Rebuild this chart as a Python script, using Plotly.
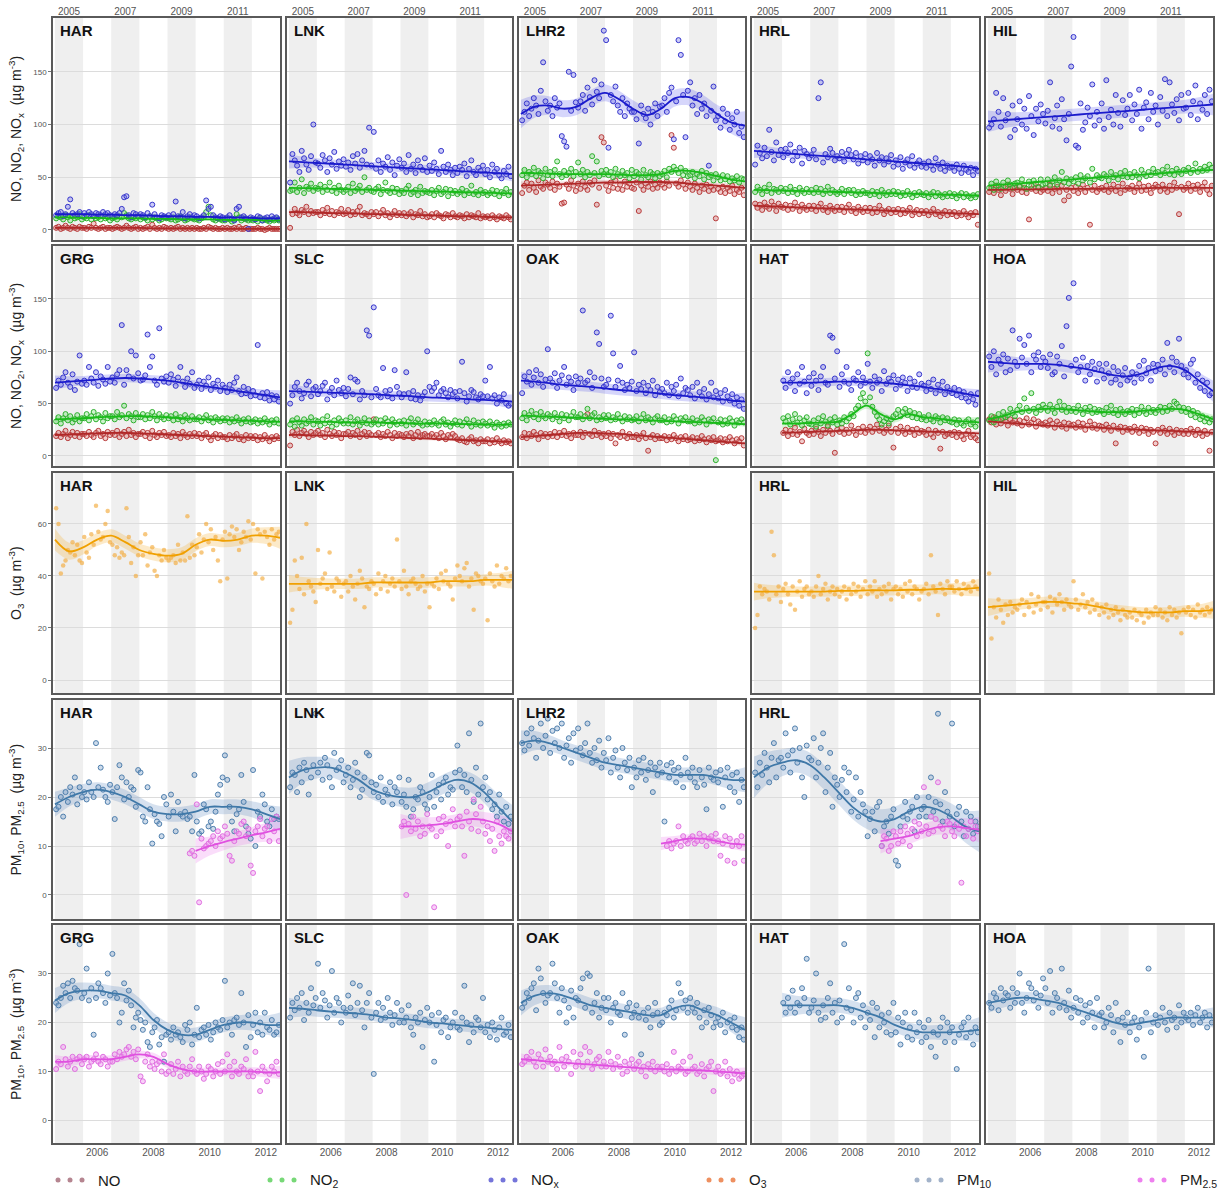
import plotly.graph_objects as go

W, H = 1221, 1194
N_MONTHS = 96
MONTH_X = [2005 + (i + 0.5) / 12 for i in range(N_MONTHS)]
KNOT_X = [2005 + 0.5 * k for k in range(17)]
X_RANGE = [2004.93, 2013.0]

TOP_TICKS = ["2005", "2007", "2009", "2011"]
BOTTOM_TICKS = ["2006", "2008", "2010", "2012"]
SHADED_YEARS = [2005, 2007, 2009, 2011]

# ---------------- monthly means, NOx family (ug m-3) ----------------
HAR_NOX = [14,16,17,13,15,22,29,16,14,15,17,13,
           16,14,17,15,13,16,15,14,17,15,16,14,
           13,15,14,16,20,31,32,14,12,16,15,13,
           15,14,12,16,13,24,15,12,11,14,13,12,
           14,12,15,27,13,12,17,11,13,15,12,14,
           13,11,12,14,28,20,22,14,12,11,13,12,
           10,12,14,11,9,20,22,12,13,11,1,12,
           11,10,13,12,9,11,12,10,13,11,12,10]
HAR_NO2 = [11,13,12,10,14,12,9,13,11,12,15,10,
           12,11,14,10,13,11,12,10,13,11,12,9,
           11,12,10,13,12,16,14,11,10,12,11,13,
           10,12,11,9,13,10,12,11,9,10,12,11,
           11,10,12,9,10,13,11,9,10,12,11,10,
           10,9,11,12,17,22,14,10,9,11,10,9,
           9,11,10,8,10,15,12,9,11,10,9,10,
           9,10,8,11,9,10,9,8,10,9,11,9]
HAR_NO = [2,3,1,2,4,2,1,3,2,1,3,2,
          2,1,3,2,6,2,1,2,3,1,2,2,
          1,2,3,2,1,2,4,2,1,2,3,1,
          2,1,2,3,1,5,2,1,2,1,3,2,
          1,2,1,2,3,1,2,1,2,1,2,1,
          2,1,1,2,1,3,2,1,2,1,1,2,
          1,2,1,1,2,1,3,1,1,2,1,1,
          1,1,2,1,1,0,1,2,1,1,1,1]

LNK_NOX = [45,72,66,61,55,75,68,62,57,70,100,64,
           63,59,71,66,55,68,62,74,58,65,61,67,
           60,64,57,70,63,72,59,66,75,62,97,61,
           93,58,66,55,63,60,69,57,64,52,61,67,
           59,63,55,71,58,62,54,66,60,57,68,55,
           61,56,64,58,53,75,60,55,62,57,52,59,
           54,60,57,63,51,58,66,55,52,59,56,61,
           53,57,50,62,55,58,52,49,56,53,60,51]
LNK_NO2 = [37,38,45,36,40,48,35,41,39,44,37,40,
           39,43,36,41,38,45,37,40,35,42,38,36,
           38,41,35,44,37,39,42,36,50,38,40,37,
           36,39,41,34,38,45,37,35,40,36,39,34,
           37,35,39,42,34,36,38,33,41,35,37,36,
           35,38,33,37,40,34,36,39,32,38,35,37,
           34,36,39,33,37,35,42,34,36,33,38,35,
           36,33,35,38,34,37,32,36,35,39,33,36]
LNK_NO = [2,15,20,16,14,19,17,22,15,18,16,17,
          17,14,19,16,21,15,18,14,17,16,20,15,
          16,19,14,17,15,18,22,14,16,15,13,17,
          15,17,13,16,19,14,16,12,15,18,14,16,
          14,16,13,15,17,12,15,14,18,13,15,12,
          13,15,12,16,14,13,11,15,14,12,16,13,
          12,14,13,11,15,12,14,13,12,16,11,13,
          12,13,11,14,12,10,13,12,11,14,12,10]

LHR2_NOX = [104,112,120,108,115,125,118,110,132,159,122,113,
            118,108,125,116,120,89,84,79,150,113,147,121,
            116,122,128,113,135,126,119,142,131,125,138,189,
            180,78,128,122,136,118,112,125,108,120,115,112,
            112,105,82,118,110,106,115,100,112,120,108,117,
            118,125,112,130,135,86,122,180,166,128,88,132,
            140,118,125,110,128,115,120,108,61,113,136,104,
            108,97,115,103,110,95,106,100,112,92,98,88]
LHR2_NO2 = [52,57,50,55,53,59,51,56,54,49,58,52,
            55,51,57,65,53,50,56,52,54,58,51,55,
            64,53,57,50,55,52,70,54,65,51,56,53,
            57,52,55,50,58,53,51,56,52,54,49,57,
            51,55,53,48,57,52,50,55,53,49,54,51,
            53,56,50,58,55,60,57,54,59,52,56,51,
            52,55,49,53,51,56,48,54,50,52,47,53,
            50,47,52,48,51,46,49,47,51,45,49,48]
LHR2_NO = [35,42,45,38,44,40,36,47,41,39,45,43,
           40,46,38,44,41,25,26,43,39,47,42,37,
           44,39,46,41,38,45,43,47,24,40,88,83,
           42,37,45,40,47,39,43,38,46,41,44,40,
           39,45,18,42,38,44,41,46,39,43,40,45,
           43,40,46,42,90,78,44,41,47,43,39,45,
           41,38,44,40,36,42,39,43,37,41,38,11,
           39,36,41,35,40,37,42,34,38,36,40,33]

HRL_NOX = [62,80,73,68,78,70,95,74,66,83,71,76,
           69,77,73,81,66,74,70,78,63,75,72,68,
           71,76,67,125,140,64,72,69,77,73,66,70,
           68,74,65,72,76,71,67,73,63,70,66,72,
           64,70,67,61,73,66,69,62,68,65,71,60,
           66,62,69,58,64,67,61,70,59,63,66,60,
           63,59,65,61,57,68,62,58,64,56,61,59,
           60,56,62,58,54,61,57,55,59,52,58,56]
HRL_NO2 = [36,41,38,34,40,37,43,35,39,38,36,40,
           37,39,35,41,36,38,34,40,37,35,39,36,
           38,35,40,36,39,34,37,41,35,38,36,34,
           36,39,34,37,38,35,38,33,36,34,37,35,
           35,33,37,34,36,32,38,35,33,36,34,37,
           34,36,32,35,33,37,34,31,35,33,36,34,
           33,35,31,34,36,32,35,33,31,34,32,35,
           32,34,30,33,35,31,34,32,30,33,31,34]
HRL_NO = [25,21,24,19,26,22,20,27,23,18,25,22,
          21,24,19,23,20,26,22,18,24,21,19,23,
          20,23,18,22,25,19,21,17,23,20,18,22,
          19,22,17,21,24,18,20,16,22,19,17,21,
          18,21,16,20,17,23,19,15,18,20,16,19,
          17,20,15,19,16,18,21,14,17,19,15,18,
          16,18,14,17,20,15,17,13,16,18,14,17,
          15,17,13,16,14,18,15,12,16,14,17,5]

HIL_NOX = [97,100,105,130,112,98,125,104,110,88,118,95,
           105,122,100,115,96,127,108,90,115,103,119,110,
           101,113,140,98,106,118,96,124,105,85,110,155,
           183,80,78,120,95,102,116,108,138,99,112,104,
           120,96,142,107,114,100,128,111,98,123,109,115,
           128,104,119,110,133,96,116,121,105,130,112,118,
           100,126,113,143,108,140,119,111,124,104,128,115,
           116,130,109,122,137,105,120,114,128,110,133,122]
HIL_NO2 = [40,44,38,46,42,39,45,41,47,43,40,44,
           45,41,48,43,39,46,42,47,44,40,48,43,
           44,48,42,46,50,43,47,55,45,49,44,48,
           46,50,44,52,47,49,51,45,58,48,52,50,
           49,53,51,47,55,50,52,48,54,51,56,50,
           53,50,55,52,49,57,53,51,55,52,58,54,
           55,52,57,54,60,53,56,52,58,55,53,57,
           56,59,54,57,63,55,58,56,60,57,62,59]
HIL_NO = [36,40,35,42,38,33,41,37,43,39,34,40,
          38,42,36,40,35,10,39,43,37,41,36,38,
          40,37,43,35,39,41,36,42,28,38,32,40,
          37,41,35,39,43,36,40,5,38,42,36,39,
          40,38,42,36,39,43,37,41,35,44,38,40,
          39,42,36,40,44,37,41,38,42,35,40,43,
          41,37,43,39,36,42,38,45,40,15,41,38,
          40,44,37,42,39,43,36,41,45,38,34,42]

GRG_NOX = [65,72,68,75,80,70,66,78,63,71,96,69,
           72,68,85,74,70,80,67,76,73,69,85,71,
           75,70,78,82,125,68,82,76,100,74,96,79,
           72,73,77,116,85,95,72,68,122,74,71,76,
           70,78,73,67,75,85,71,66,74,69,80,65,
           68,72,64,71,67,75,63,69,66,72,62,68,
           65,61,68,63,70,75,62,59,66,60,64,57,
           62,58,106,56,60,55,61,53,58,54,57,52]
GRG_NO2 = [33,37,31,36,40,34,38,32,35,39,33,36,
           36,40,34,38,42,35,39,37,33,41,36,38,
           38,35,42,37,39,48,36,40,38,34,41,37,
           37,40,35,39,36,42,38,34,40,37,35,39,
           36,38,34,40,35,37,33,39,36,34,38,35,
           35,37,33,36,39,34,36,32,37,35,33,36,
           34,36,32,35,33,37,34,31,35,33,36,32,
           33,35,31,34,32,36,33,30,34,32,35,31]
GRG_NO = [19,22,18,21,24,17,20,23,19,22,18,21,
          21,19,23,20,18,22,24,19,21,17,23,20,
          22,20,24,18,21,23,19,25,20,22,18,21,
          21,23,19,22,17,24,20,18,22,20,23,19,
          20,18,22,19,21,17,23,20,18,21,19,22,
          19,21,17,20,22,18,15,19,21,17,20,18,
          18,16,20,17,19,21,16,18,15,20,17,19,
          17,19,15,18,16,20,17,14,18,16,19,17]

SLC_NOX = [50,58,66,70,62,55,60,68,71,57,64,66,
           59,62,67,70,54,61,65,58,72,63,60,65,
           57,64,75,59,73,71,54,62,58,120,115,56,
           142,64,58,56,84,62,57,63,55,82,66,60,
           56,59,80,60,55,62,54,58,53,57,61,100,
           66,62,65,70,58,62,64,60,56,63,59,61,
           55,62,90,60,52,57,63,61,56,54,59,57,
           72,57,85,55,58,50,56,53,59,50,48,50]
SLC_NO2 = [30,34,28,36,32,29,35,31,33,37,30,34,
           33,29,35,31,38,32,28,34,30,36,33,31,
           34,31,37,30,33,35,29,32,36,31,34,30,
           32,35,30,34,31,36,33,29,35,32,30,33,
           31,34,29,33,36,30,32,35,31,29,33,30,
           32,30,34,31,29,33,35,30,32,28,31,34,
           30,33,29,32,35,31,28,34,30,32,29,33,
           31,29,33,30,27,32,30,28,31,29,32,30]
SLC_NO = [10,23,20,25,19,22,24,21,18,23,20,22,
          24,20,22,18,25,21,19,23,20,22,17,21,
          21,23,19,22,20,24,18,21,23,19,22,20,
          35,20,22,18,21,19,23,20,17,22,19,21,
          20,18,21,19,22,17,20,23,18,20,21,19,
          19,21,18,20,17,22,19,16,20,18,21,19,
          16,15,17,14,13,16,18,14,15,12,16,14,
          14,16,12,15,13,17,14,12,15,13,14,12]

OAK_NOX = [60,76,71,80,68,75,82,70,78,66,73,102,
           74,70,79,65,72,77,85,68,75,71,63,76,
           70,74,139,70,72,80,65,75,118,107,74,66,
           68,73,134,98,66,72,86,70,63,68,65,71,
           99,62,68,64,70,60,67,63,72,58,66,61,
           64,60,70,58,66,62,68,57,74,60,65,63,
           58,66,55,70,61,57,64,54,59,70,56,62,
           55,60,52,63,57,53,59,50,56,48,54,45]
OAK_NO2 = [36,41,34,39,43,37,40,35,42,38,36,40,
           38,35,41,37,33,40,36,39,34,38,42,37,
           37,40,35,38,45,36,39,41,34,37,35,39,
           36,39,34,37,35,40,36,33,38,35,37,34,
           35,38,33,36,40,34,37,35,32,36,38,34,
           34,37,32,35,33,38,35,31,36,34,37,33,
           33,36,31,34,32,37,34,30,35,33,36,-4,
           32,35,30,34,31,36,33,29,34,32,35,32]
OAK_NO = [18,22,17,21,19,23,20,16,22,19,21,18,
          21,19,23,18,22,20,24,19,21,17,22,20,
          20,23,18,22,40,21,19,24,20,22,18,21,
          19,22,17,21,12,20,18,23,19,17,21,18,
          18,20,16,19,22,17,5,18,20,16,19,17,
          17,19,15,18,16,20,17,14,18,16,19,15,
          16,18,14,17,15,19,16,13,17,15,18,14,
          15,17,13,16,14,18,15,12,16,14,17,10]

HAT_NOX = [None] * 12 + [
           72,65,80,70,74,62,78,69,85,71,60,75,
           67,79,72,63,76,85,70,68,115,113,74,100,
           66,78,71,85,69,63,74,72,80,67,75,70,
           88,71,65,76,70,73,62,81,69,74,71,77,
           64,73,68,75,70,62,74,66,71,65,78,69,
           67,62,70,64,73,60,68,63,71,59,66,62,
           60,65,58,63,56,61,55,52,59,54,49,60]
HAT_NO2 = [None] * 12 + [
           36,33,38,30,35,40,32,36,29,34,37,31,
           30,34,28,36,31,38,33,29,35,32,37,30,
           34,31,37,33,36,40,38,45,48,55,60,52,
           98,56,47,42,38,35,30,33,36,31,35,38,
           40,44,38,42,45,39,43,37,41,36,40,35,
           37,34,39,35,33,38,36,32,37,34,36,33,
           32,35,30,34,31,29,33,35,30,32,28,34]
HAT_NO = [None] * 12 + [
          22,25,19,24,21,27,20,23,14,26,22,20,
          24,21,26,23,19,25,22,28,24,21,3,25,
          23,27,21,25,22,29,24,20,26,23,28,22,
          25,28,23,26,30,24,27,22,25,29,23,8,
          26,22,28,24,21,27,23,25,20,26,22,24,
          23,20,25,21,18,24,22,7,23,19,21,22,
          20,23,18,22,19,16,21,24,18,20,17,15]

HOA_NOX = [95,85,100,78,92,88,97,80,93,82,120,90,
           86,112,94,106,88,115,80,96,92,99,85,94,
           90,84,97,78,80,95,88,105,76,124,151,86,
           165,92,80,85,94,72,86,78,90,83,71,88,
           82,74,88,79,70,85,73,81,68,77,84,72,
           75,80,70,78,86,74,91,79,84,72,88,81,
           87,83,92,78,108,85,94,80,90,112,86,78,
           82,75,88,92,70,78,65,72,62,70,58,60]
HOA_NO2 = [34,38,32,36,40,35,42,37,39,45,41,38,
           44,48,42,55,46,43,60,45,41,47,44,49,
           46,43,49,45,41,47,52,44,48,42,46,43,
           45,42,48,44,40,46,43,47,41,45,42,44,
           43,40,46,42,48,41,44,39,45,42,40,43,
           42,45,39,44,41,47,43,40,46,42,44,41,
           44,47,42,46,43,48,45,52,50,47,43,46,
           42,45,39,43,37,41,35,38,33,36,32,35]
HOA_NO = [35,32,37,30,34,31,36,33,29,35,32,34,
          31,34,29,33,36,30,32,35,28,33,31,30,
          32,29,34,31,27,33,30,28,32,26,31,29,
          30,27,32,28,31,25,29,33,27,30,26,29,
          28,25,30,27,24,29,12,26,28,23,27,25,
          26,23,28,25,22,27,24,26,21,25,23,12,
          25,22,27,24,21,26,23,20,25,22,24,21,
          24,21,26,23,20,25,22,19,24,21,5,23]

# ---------------- monthly means, O3 ----------------
HAR_O3 = [66,60,41,44,46,50,49,53,48,52,46,45,
          55,49,47,56,52,67,57,54,55,60,65,53,
          52,48,51,47,49,48,66,55,45,51,40,48,
          53,48,56,44,49,51,42,40,48,46,50,47,
          46,47,48,45,52,46,49,46,63,47,52,48,
          51,56,49,54,60,53,58,50,55,46,38,54,
          57,39,56,59,55,58,50,53,57,55,61,54,
          60,41,58,56,39,57,55,52,58,54,56,57]
LNK_O3 = [22,27,46,40,35,47,33,60,38,36,34,30,
          50,37,39,41,35,49,36,34,39,38,32,37,
          38,34,40,36,31,37,42,39,28,36,35,38,
          37,33,41,35,38,40,34,37,39,36,54,38,
          35,42,36,33,38,39,37,35,36,40,34,37,
          28,37,36,39,35,41,38,42,37,36,31,39,
          44,40,38,43,45,36,39,27,41,40,38,37,
          39,23,41,38,36,44,37,40,39,43,38,40]
HRL_O3 = [20,25,36,33,35,34,31,57,48,33,36,30,
          35,37,33,29,36,27,34,38,32,35,36,33,
          34,32,36,40,33,35,37,31,34,36,33,35,
          32,34,36,31,35,33,37,34,36,32,35,38,
          33,36,34,38,32,35,33,36,34,37,31,35,
          36,33,35,32,37,34,38,33,36,35,31,34,
          35,37,33,48,36,34,25,37,35,33,38,36,
          36,34,38,35,33,37,35,36,34,38,36,35]
HIL_O3 = [41,16,28,24,31,27,22,29,25,30,26,28,
          27,29,31,25,30,28,33,26,29,32,27,30,
          30,28,32,26,31,29,33,30,27,31,29,28,
          38,31,27,29,33,28,30,26,31,27,29,25,
          28,26,29,24,27,25,28,26,23,27,25,24,
          26,24,27,23,26,25,22,27,24,26,25,28,
          25,27,24,26,23,28,25,27,24,26,18,27,
          26,28,25,27,24,29,26,27,25,28,26,27]

# ---------------- monthly means, PM10 and PM2.5 ----------------
HAR_PM10 = [17.5,18,20,16,21,19,22,20.5,24,18.5,22,20,
            21,19.5,23,21,20,31,22,26,21.5,20,19,22.5,
            21,15.5,22,26.5,24,19.5,23,20,22,21.5,18,25.5,
            25,16,15,22,17.5,10.5,16.5,15,14.5,12,20,18.5,
            16,20.5,17,13,19,16.5,16,17,15.5,16,13,24.5,
            15,12.5,13,18.5,17.5,14,15,13.5,17,20.5,22.5,24,
            28.5,23.5,18,15,13,16.5,17.5,24.5,19,14,12.5,11.5,
            25.5,10,17,16,20.5,18.5,15,14,17.5,15.5,16,15.5]
HAR_PM25 = [None] * 57 + [8.5,9,8,
            18.5,-1.5,11.5,9.5,10,10.5,11,12,10,13,11.5,12,
            14,12.5,8,7,11,13,12.5,14.5,15,12,13.5,6,
            4.5,13,14,15.5,12,13.5,14,11,15.5,13,16,11]
LNK_PM10 = [22,25,24.5,21,26,23,27,25.5,20.5,24,26.5,37,
            25,27,23.5,28,26.5,24,22,29,25.5,26,27.5,23,
            24.5,26,22,23.5,27,25,20,21.5,24,29,28.5,23,
            21,22.5,20,24,19,21.5,20.5,23,18.5,22,21,24,
            19,20.5,18,23.5,16,17.5,20,19.5,22,21,18.5,17.5,
            20,24.5,18,21,22.5,19.5,23,24,20.5,22,21.5,25,
            30.5,25.5,22,24.5,21,33,23.5,19,26,20.5,35,22,
            24,19.5,21,17.5,18.5,16,20.5,17,15,18,14.5,16]
LNK_PM25 = [None] * 48 + [
            14,15,0,14.5,13,16,13.5,15,12,14,12.5,16.5,
            14,13.5,-2.5,12,15.5,13,16,14.5,10,15,17.5,14,
            15.5,16,14,8,17,15,13.5,19.5,16.5,13,18,15,
            12.5,14,11,13.5,9,15,12,10.5,13,12,11.5,13]
LHR2_PM10 = [31,29.5,33,30.5,34,32,28,31.5,35,30,32.5,36,
             29,33.5,31,34,30,35,28,30.5,32,27,33,29.5,
             34,30,28.5,31,35,29,27,30,27.5,31.5,26,29,
             27.5,32,25,28,29.5,26,24,30,27,25.5,28,22,
             26,24,27.5,25,28,23.5,25.5,27,21,26,24.5,27,
             25,15,26.5,24,27,25.5,23,26,24.5,22,28,25,
             24,26,23,22,25.5,24,22.5,17.5,26,24,23.5,25,
             23,25.5,18,24,26,22,24.5,21,25,19,23.5,22]
LHR2_PM25 = [None] * 62 + [10,11,9.5,10.5,11,14,10,12,11,10.5,
             11.5,12,10.5,11,12.5,11,12,10,11.5,12,11,12.5,
             11,8,10.5,12,7,11.5,10,6.5,11,10,12,7]
HRL_PM10 = [25,22,27,24.5,29,26,23,28,31,24,27.5,28,
            26,33,28.5,25,29.5,34,27,30,24,20,30.5,28,
            27.5,32,24,27,30,33,21,26,29,18,24,22.5,
            20,23.5,26,21,25,17,19.5,24,16,21,18.5,17,
            12,15.5,17,13,18,19,10,14,15,12.5,16,17.5,
            7,6,14,16,19,15.5,17,18,13,20,16,17.5,
            18,16,20,24,17,19,37,18.5,15,21,17,16,
            35,14,16.5,18,15,12,17,13.5,16,12.5,15,14]
HRL_PM25 = [None] * 54 + [10,12,11.5,9,10,13,
            12,10.5,13,11,14,12.5,10,13.5,15,12,14.5,13,
            22,14,12.5,16,13,15.5,23,14,13.5,12,15,14.5,
            13,12,14.5,13.5,2.5,14,12,13.5,15,11.5,14,13]

GRG_PM10 = [24,23.5,25,27.5,26,28,25,28.5,27,26.5,36,25,
            26,31,24.5,27,17.5,25,28,27,26,24,30,25.5,
            34,26,25,20,22,28,24.5,26.5,23.5,19,21,22,
            20.5,18.5,20,16,15,18,19,20.5,15.5,17,12,17.5,
            18,16.5,19,17.5,18,17,16,19.5,18.5,20,15.5,17.5,
            23,17,18.5,19,17.5,19.5,16.5,18,20,19,18.5,20.5,
            28.5,19,20,17.5,20.5,21,19.5,26,20,15,21.5,17,
            19.5,22,18,20,17.5,22,19,18.5,20.5,17.5,18,19.5]
GRG_PM25 = [10.5,12,11.5,15,12.5,11,12,13,10.5,12.5,13,11.5,
            12.5,13,11,12,12.5,13.5,12,11.5,13,12.5,11,12,
            12,13.5,12.5,14,13,13.5,14.5,15,13,14,12.5,14.5,
            9,8,12,13.5,11,12,10.5,11.5,12,10,13.5,9.5,
            10,11.5,9.5,10.5,12,9,11,10,9.5,11,12.5,10,
            9.5,11,10,8.5,9.5,11,10.5,9,10,11.5,9.5,12,
            10,13.5,11,9,12,10,9.5,11,10.5,12.5,9,10,
            9,14,10,6,11,10,8,9.5,11,10,12,9.5]
SLC_PM10 = [21,24,22.5,25,23,26,20.5,24,22,27,23.5,25,
            32,23,26,24.5,21,23.5,30.5,22,25,24,20,23,
            22,25.5,23,28,21.5,24,27.5,22.5,19,24,26,21,
            9.5,22,24,20.5,23,21,25,22,19.5,21.5,24,20,
            22.5,20,21,23.5,19,17.5,21,20,22,15,20.5,23,
            20,21.5,12,19.5,22,18,20.5,21,17,19,20,22,
            19,18.5,21,27.5,20,16,19.5,18,21,20.5,19,25,
            18,19.5,17,20,18.5,16.5,19,21,17.5,18,19.5,17]
OAK_PM10 = [23,24,26,25,27,28,22.5,31,29,26,24,25.5,
            26,32,28,25,22,27,24.5,20,23,26.5,21,25,
            24.5,27,29,23,30,29.5,22,24,26,21,23,25,
            22.5,25,20,23,24,22,21.5,26,17.5,23,24,21,
            22,23.5,21,13.5,22,20.5,23,19,21.5,24,22,19.5,
            20,22,21.5,23,24.5,21,22.5,28,26,23,24.5,22,
            25,23,22,24,21,19,22.5,20,23,21.5,19,20,
            21,19.5,22,18,20,20.5,19,21,18.5,17,19,16.5]
OAK_PM25 = [11.5,12,13,12.5,14,12,11,13.5,12.5,11,14.5,12,
            13,11.5,12,10.5,15,12.5,11,13,12,9.5,14,11,
            12,13.5,11,15,12,14,10.5,11.5,12.5,13,11,12,
            11,14,12,10.5,11.5,13,11,9.5,12,10,11.5,12.5,
            10.5,11.5,12,10,11,9,11.5,10.5,12,10,11,10.5,
            11,10,11.5,9.5,10.5,14,10,11,10.5,12,9.5,10,
            13,10.5,11,9.5,10,11.5,9,10.5,11,12,6,10,
            11,9.5,10,12,9,10.5,8,9.5,10,8.5,9,9.5]
HAT_PM10 = [None] * 12 + [
            24,22,25,23,26.5,22,24,23.5,27,25,33,22,
            23,24.5,30,22,20.5,23.5,21,25,28,22,24,20,
            24.5,21,36,23,27,22.5,20,25,26,21,23.5,19,
            22,20.5,24,17,23,19,21.5,20,18,22,17.5,24,
            18,21,15.5,20,22,17,19,16.5,22,18,20,16,
            19,17,20.5,15,18,13,17.5,19,21,16,20,18,
            19,16,10.5,17.5,19,20,17,21,18,15.5,19,18]
HOA_PM10 = [24,23,26,25,22.5,27,24.5,26,25.5,23,27,24,
            26,30,24,22,25,28,27,24.5,26,23,25.5,29,
            27,24,30.5,22,26,25,23,31,24,22.5,26.5,21,
            23,25,22,24.5,20,23.5,21,24,22,19,25,21.5,
            22,19,20,23,21.5,18,24,20.5,16,21,19.5,22,
            18,20,21,16.5,19,20.5,13,22,31,18,20,21.5,
            19.5,21,23,20,18.5,22,20.5,21,19,23.5,20,22,
            21,20.5,22,19.5,21.5,23,20,21,22,19,21.5,20]

# ---------------- smooth-trend knots (2005.0 ... 2013.0, every half year) ----------------
T_HAR_NOX = [15,15,15,14.5,14.5,14,14,13.5,13,13,12.5,12.5,12,12,11.5,11,11]
T_HAR_NO2 = [12,12,11.5,11.5,11,11,11,10.5,10.5,10,10,10,9.5,9.5,9.5,9,9]
T_HAR_NO = [2,2,2,2,2,2,2,1.5,1.5,1.5,1.5,1.5,1,1,1,1,1]
T_LNK_NOX = [65,64.3,63.5,62.8,62,61.3,60.5,59.8,59,58.3,57.5,56.8,56,55.3,54.5,53.8,53]
T_LNK_NO2 = [40,39.7,39.4,39,38.7,38.4,38,37.7,37.4,37,36.7,36.4,36,35.7,35.4,35,34.7]
T_LNK_NO = [17,17,16.5,16,16,15.5,15,15,14.5,14,14,13.5,13,13,12.5,12,12]
T_LHR2_NOX = [110,117,118,115,117,125,130,124,115,109,115,125,126,120,110,102,99]
T_LHR2_NO2 = [54,54,53.5,53,53,53,53,52.5,52,52,53,56,56,54,51,48,46]
T_LHR2_NO = [42,42.5,43,43.5,44,44.5,45,45,45.5,45.5,45.5,45,44,43,42,41,40]
T_HRL_NOX = [75,74,73,72,71,70,69,68,67,66,65,64,63,62,61,60,58]
T_HRL_NO2 = [38,37.7,37.4,37,36.7,36.4,36,35.7,35.4,35,34.7,34.4,34,33.7,33.4,33,32.7]
T_HRL_NO = [23,22.5,22,21.5,21,20.5,20,19.5,19,18.5,18,17.5,17,16.5,16,15.5,15]
T_HIL_NOX = [103,104,105,106,107,108,109,110,111,112,113,114,115,116,117,118,119]
T_HIL_NO2 = [42,43,44,45,46,47,48,49,50,51,52,52.5,53.5,54.5,55.5,56.5,57]
T_HIL_NO = [38,38,38.5,38.5,38.5,39,39,39,39,39.5,39.5,39.5,40,40,40,40,40]

T_GRG_NOX = [70,71,72,73,74,74.5,74,73,72,70,68,66,64,62,60,58,56]
T_GRG_NO2 = [35,35.5,36,37,37.5,38,38,37.5,37,36,35.5,35,34.5,34,33.5,33,32.5]
T_GRG_NO = [20,20.5,21,21.5,22,22,21.5,21,20.5,20,19.5,19,18.5,18,17.5,17,17]
T_SLC_NOX = [62,61.5,61,60.5,60,59.5,59,58,57.5,57,56,55.5,55,54,53.5,53,52]
T_SLC_NO2 = [33,33,32.5,32.5,32,32,32,31.5,31.5,31,31,31,30.5,30.5,30,30,30]
T_SLC_NO = [20,20,19.5,19.5,19,19,18.5,18,17.5,17,16.5,16,15.5,15,14.5,14,13.5]
T_OAK_NOX = [72,71,69.5,68,67,66,64.5,63,62,61,59.5,58,57,56,54.5,53,52]
T_OAK_NO2 = [38.5,38,37.5,37,36.5,36,35.5,35,34.5,34,33.5,33,32.5,32,31.5,31,30.5]
T_OAK_NO = [18,19,20,21,22,22,21.5,21,20,19,18,17,16,15,14,13,12]
T_HAT_NOX = [None,None,70,70,70,70.5,71,71,70.5,70,69,67.5,66,64,62,59.5,57]
T_HAT_NO2 = [None,None,31,31,31.5,32,33,40,48,40,35,40,37,36,34,33,32]
T_HAT_NO = [None,None,22,22.5,23,23.5,24,24.5,25,25,24.5,24,23.5,23,22.5,22,21.5]
T_HOA_NOX = [90,89,88,88,88,87,85,83,80,77,76,79,84,86,82,72,62]
T_HOA_NO2 = [35,38,42,44,45,45,44,43,42,42,42,43,44,45,44,40,35]
T_HOA_NO = [33,32,31,30,29,28.5,28,27.5,27,26,25.5,25,24.5,24,23.5,23,22]

T_HAR_O3 = [54,49.5,51,54,55.5,53,50,48.5,47.8,48.5,52,54,53.5,54,55.5,55.5,54.7]
T_LNK_O3 = [37,37,37,37,37,37,37.5,37.5,37.5,37.5,37.5,38,38,38,38.5,38.5,38.5]
T_HRL_O3 = [34,34,34,34,34,34,34.3,34.3,34.5,34.5,34.5,34.7,34.7,35,35,35,35.5]
T_HIL_O3 = [28,28.5,29,29.5,30,30,29.5,29,28,27,26.5,26,26,26,26.5,26.5,27]

T_HAR_PM10 = [18.5,20,21,21.5,21,20,18.5,17,16.5,16.5,17,18,18,18,17.5,16.5,15.5]
T_HAR_PM25 = [None]*10 + [9,10,10.8,11.5,12.2,12.8,13.5]
T_LNK_PM10 = [24,25.5,26,26,25,23.5,21.5,20.5,20,20,21,22.5,23.5,23,21,18,15]
T_LNK_PM25 = [None]*8 + [14,14,14.2,14.5,15,15.5,15.3,14.5,13]
T_LHR2_PM10 = [31,31.5,31,30,29,28,27,26.5,26,25.5,25,24.5,24.5,24.5,24,23.5,23.5]
T_LHR2_PM25 = [None]*10 + [10.5,11,11.5,11.5,11,10.5,10.3]
T_HRL_PM10 = [24,26,27,27.5,26.5,24,21,18,16,15,15.5,17,18,17.5,16,14,13]
T_HRL_PM25 = [None]*9 + [11,11.5,12,13,13.8,14,13.7,13.3]
T_GRG_PM10 = [24.5,26,26.5,26.5,26,25.5,23.5,20.5,18.5,17.5,17.5,18.5,19.5,20,20,19.5,19.5]
T_GRG_PM25 = [12,12,12.5,12.5,12.5,13,13.5,13,11.5,10.5,10,10,10,10,10,9.8,9.8]
T_SLC_PM10 = [23,22.8,22.5,22.2,22,21.8,21.5,21,20.8,20.5,20,19.8,19.5,19.2,19,18.7,18.5]
T_OAK_PM10 = [24,25.5,26,25.5,24.5,23.5,23,22.5,22,21.5,21.5,23,23.5,22.5,21.5,20,18.5]
T_OAK_PM25 = [12.5,12.3,12,11.8,11.6,11.4,11.2,11,10.8,10.6,10.5,10.4,10.3,10.2,10,9.8,9.6]
T_HAT_PM10 = [None,None,23.5,23.5,23.5,23.5,23.5,23,22,21,19.5,18.5,18,18,18,18.2,18.5]
T_HOA_PM10 = [24,24.5,25,25,24.5,24,23,22,21,20,19.5,20,20.5,21,21,21,21]

# ---------------- styling per pollutant ----------------
STYLE = {
    "NO":   dict(label="NO", pt_fill="rgba(215,110,110,0.35)", pt_line="#B83A3A",
                 line="#B02828", band="rgba(205,90,90,0.22)", size=5, key="#B58590"),
    "NO2":  dict(label="NO<sub>2</sub>", pt_fill="rgba(110,220,110,0.35)", pt_line="#2DB02D",
                 line="#18BB18", band="rgba(70,205,70,0.22)", size=5, key="#77D877"),
    "NOX":  dict(label="NO<sub>x</sub>", pt_fill="rgba(110,110,235,0.35)", pt_line="#3535CC",
                 line="#1A1ACC", band="rgba(70,70,235,0.22)", size=5, key="#7575DA"),
    "O3":   dict(label="O<sub>3</sub>", pt_fill="rgba(242,170,60,0.65)", pt_line="rgba(242,170,60,0.0)",
                 line="#F0A000", band="rgba(245,180,60,0.28)", size=4.5, key="#EE9060"),
    "PM10": dict(label="PM<sub>10</sub>", pt_fill="rgba(130,165,205,0.4)", pt_line="#4F7FAD",
                 line="#3F78A8", band="rgba(90,135,190,0.25)", size=5, key="#A3B3CA"),
    "PM25": dict(label="PM<sub>2.5</sub>", pt_fill="rgba(240,150,240,0.45)", pt_line="#E070E0",
                 line="#E050E0", band="rgba(235,120,235,0.25)", size=5, key="#EE80EE"),
}
LEGEND_ORDER = ["NO", "NO2", "NOX", "O3", "PM10", "PM25"]
LEGEND_KEY_PX = [58, 270, 491, 709, 917, 1140]   # left edge of each key, in px
LEGEND_Y_PX = 1180


def nox_series(no, no2, nox, tno, tno2, tnox, hw):
    return [("NO", no, tno, hw[0]), ("NO2", no2, tno2, hw[1]), ("NOX", nox, tnox, hw[2])]


PANELS = {
    (0, 0): ("HAR", nox_series(HAR_NO, HAR_NO2, HAR_NOX, T_HAR_NO, T_HAR_NO2, T_HAR_NOX, (0.8, 1, 1.2))),
    (0, 1): ("LNK", nox_series(LNK_NO, LNK_NO2, LNK_NOX, T_LNK_NO, T_LNK_NO2, T_LNK_NOX, (1.5, 2, 4))),
    (0, 2): ("LHR2", nox_series(LHR2_NO, LHR2_NO2, LHR2_NOX, T_LHR2_NO, T_LHR2_NO2, T_LHR2_NOX, (2.5, 2.5, 8))),
    (0, 3): ("HRL", nox_series(HRL_NO, HRL_NO2, HRL_NOX, T_HRL_NO, T_HRL_NO2, T_HRL_NOX, (2, 1.5, 4))),
    (0, 4): ("HIL", nox_series(HIL_NO, HIL_NO2, HIL_NOX, T_HIL_NO, T_HIL_NO2, T_HIL_NOX, (2, 2, 6))),
    (1, 0): ("GRG", nox_series(GRG_NO, GRG_NO2, GRG_NOX, T_GRG_NO, T_GRG_NO2, T_GRG_NOX, (1.5, 2, 4))),
    (1, 1): ("SLC", nox_series(SLC_NO, SLC_NO2, SLC_NOX, T_SLC_NO, T_SLC_NO2, T_SLC_NOX, (1.5, 1.5, 4))),
    (1, 2): ("OAK", nox_series(OAK_NO, OAK_NO2, OAK_NOX, T_OAK_NO, T_OAK_NO2, T_OAK_NOX, (1.5, 1.5, 5))),
    (1, 3): ("HAT", nox_series(HAT_NO, HAT_NO2, HAT_NOX, T_HAT_NO, T_HAT_NO2, T_HAT_NOX, (1.5, 3, 4))),
    (1, 4): ("HOA", nox_series(HOA_NO, HOA_NO2, HOA_NOX, T_HOA_NO, T_HOA_NO2, T_HOA_NOX, (2, 2.5, 6))),
    (2, 0): ("HAR", [("O3", HAR_O3, T_HAR_O3, 2.5)]),
    (2, 1): ("LNK", [("O3", LNK_O3, T_LNK_O3, 2)]),
    (2, 3): ("HRL", [("O3", HRL_O3, T_HRL_O3, 2)]),
    (2, 4): ("HIL", [("O3", HIL_O3, T_HIL_O3, 2)]),
    (3, 0): ("HAR", [("PM10", HAR_PM10, T_HAR_PM10, 1.5), ("PM25", HAR_PM25, T_HAR_PM25, 1.5)]),
    (3, 1): ("LNK", [("PM10", LNK_PM10, T_LNK_PM10, 2), ("PM25", LNK_PM25, T_LNK_PM25, 1.5)]),
    (3, 2): ("LHR2", [("PM10", LHR2_PM10, T_LHR2_PM10, 1.5), ("PM25", LHR2_PM25, T_LHR2_PM25, 0.8)]),
    (3, 3): ("HRL", [("PM10", HRL_PM10, T_HRL_PM10, 2.5), ("PM25", HRL_PM25, T_HRL_PM25, 1.5)]),
    (4, 0): ("GRG", [("PM10", GRG_PM10, T_GRG_PM10, 1.5), ("PM25", GRG_PM25, T_GRG_PM25, 0.8)]),
    (4, 1): ("SLC", [("PM10", SLC_PM10, T_SLC_PM10, 1.2)]),
    (4, 2): ("OAK", [("PM10", OAK_PM10, T_OAK_PM10, 1.5), ("PM25", OAK_PM25, T_OAK_PM25, 0.7)]),
    (4, 3): ("HAT", [("PM10", HAT_PM10, T_HAT_PM10, 1.5)]),
    (4, 4): ("HOA", [("PM10", HOA_PM10, T_HOA_PM10, 1.2)]),
}

# panel rectangles in pixels
COL_PX = [(53, 280), (287, 512), (519, 745), (752, 979), (986, 1213)]
ROW_PX = [(18, 240), (246, 466), (473, 693), (700, 919), (925, 1143)]
ROW_YRANGE = [[-9.5, 201], [-9.6, 200.6], [-5, 79.6], [-4.9, 39.8], [-4.6, 39.9]]
ROW_YTICKS = [[0, 50, 100, 150], [0, 50, 100, 150], [0, 20, 40, 60], [0, 10, 20, 30], [0, 10, 20, 30]]
ROW_TITLES = [
    "NO, NO<sub>2</sub>, NO<sub>x</sub>  (µg m<sup>-3</sup>)",
    "NO, NO<sub>2</sub>, NO<sub>x</sub>  (µg m<sup>-3</sup>)",
    "O<sub>3</sub>  (µg m<sup>-3</sup>)",
    "PM<sub>10</sub>, PM<sub>2.5</sub>  (µg m<sup>-3</sup>)",
    "PM<sub>10</sub>, PM<sub>2.5</sub>  (µg m<sup>-3</sup>)",
]

FONT = "Liberation Sans, Arial, sans-serif"
fig = go.Figure()
layout = {}
shapes = []
annotations = []


def band_factor(i, n):
    # confidence band opens up towards the ends of the record
    prof = [1.7, 1.3, 1.1]
    k = min(i, n - 1 - i)
    return prof[k] if k < len(prof) else 1.0


for r in range(5):
    for c in range(5):
        n = r * 5 + c + 1
        xs, ys = ("x" if n == 1 else f"x{n}"), ("y" if n == 1 else f"y{n}")
        xk, yk = ("xaxis" if n == 1 else f"xaxis{n}"), ("yaxis" if n == 1 else f"yaxis{n}")
        x0, x1 = COL_PX[c]
        y0, y1 = ROW_PX[r]
        has_panel = (r, c) in PANELS

        xa = dict(domain=[x0 / W, x1 / W], range=X_RANGE, anchor=ys, showgrid=False,
                  zeroline=False, showline=True, mirror=True, linecolor="#5a5a5a",
                  linewidth=1.5, ticks="", fixedrange=True,
                  tickfont=dict(size=10, color="#555", family=FONT))
        if r == 0:
            xa.update(side="top", tickvals=[int(t) + 0.5 for t in TOP_TICKS], ticktext=TOP_TICKS,
                      showticklabels=True, ticklabelstandoff=-3)
        elif r == 4:
            xa.update(side="bottom", tickvals=[int(t) + 0.5 for t in BOTTOM_TICKS],
                      ticktext=BOTTOM_TICKS, showticklabels=True, ticklabelstandoff=-1)
        else:
            xa.update(showticklabels=False)

        ya = dict(domain=[1 - y1 / H, 1 - y0 / H], range=ROW_YRANGE[r], anchor=xs,
                  zeroline=False, showline=True, mirror=True, linecolor="#5a5a5a",
                  linewidth=1.5, tickvals=ROW_YTICKS[r], fixedrange=True,
                  showgrid=has_panel, gridcolor="#DCDCDC", gridwidth=1,
                  tickfont=dict(size=8, color="#555", family=FONT))
        if c == 0:
            ya.update(showticklabels=True, ticks="outside", ticklen=3, tickcolor="#777")
        else:
            ya.update(showticklabels=False, ticks="")
        layout[xk] = xa
        layout[yk] = ya

        if not has_panel:
            continue

        for yr in SHADED_YEARS:
            shapes.append(dict(type="rect", xref=xs, yref=f"{ys} domain", x0=yr, x1=yr + 1,
                               y0=0, y1=1, fillcolor="#EFEFEF", line=dict(width=0), layer="below"))

        station, series = PANELS[(r, c)]
        annotations.append(dict(xref="paper", yref="paper", x=(x0 + 5) / W, y=1 - (y0 + 2) / H,
                                xanchor="left", yanchor="top", showarrow=False,
                                text=f"<b>{station}</b>",
                                font=dict(size=15, color="#111", family=FONT)))

        # confidence bands
        for key, vals, knots, hw in series:
            st = STYLE[key]
            kx = [x for x, v in zip(KNOT_X, knots) if v is not None]
            kv = [v for v in knots if v is not None]
            m = len(kv)
            up = [v + hw * band_factor(i, m) for i, v in enumerate(kv)]
            lo = [v - hw * band_factor(i, m) for i, v in enumerate(kv)]
            fig.add_trace(go.Scatter(x=kx, y=up, mode="lines", line=dict(width=0, shape="spline"),
                                     xaxis=xs, yaxis=ys, showlegend=False, hoverinfo="skip"))
            fig.add_trace(go.Scatter(x=kx, y=lo, mode="lines", line=dict(width=0, shape="spline"),
                                     fill="tonexty", fillcolor=st["band"],
                                     xaxis=xs, yaxis=ys, showlegend=False, hoverinfo="skip"))
        # monthly points
        for key, vals, knots, hw in series:
            assert len(vals) == N_MONTHS, (station, key, len(vals))
            st = STYLE[key]
            fig.add_trace(go.Scatter(
                x=MONTH_X, y=vals, mode="markers", xaxis=xs, yaxis=ys, showlegend=False,
                marker=dict(size=st["size"], color=st["pt_fill"],
                            line=dict(color=st["pt_line"], width=1))))
        # smooth trends
        for key, vals, knots, hw in series:
            st = STYLE[key]
            kx = [x for x, v in zip(KNOT_X, knots) if v is not None]
            kv = [v for v in knots if v is not None]
            fig.add_trace(go.Scatter(x=kx, y=kv, mode="lines", xaxis=xs, yaxis=ys,
                                     line=dict(color=st["line"], width=1.8, shape="spline"),
                                     showlegend=False, hoverinfo="skip"))

# y-axis titles on the left margin
for r in range(5):
    yc = (ROW_PX[r][0] + ROW_PX[r][1]) / 2
    annotations.append(dict(xref="paper", yref="paper", x=16 / W, y=1 - yc / H,
                            xanchor="center", yanchor="middle", textangle=-90, showarrow=False,
                            text=ROW_TITLES[r], font=dict(size=14, color="#222", family=FONT)))

# key strip along the bottom: three dots and a label per pollutant
layout["xaxis26"] = dict(domain=[0, 1], range=[0, W], visible=False, fixedrange=True, anchor="y26")
layout["yaxis26"] = dict(domain=[1 - (LEGEND_Y_PX + 8) / H, 1 - (LEGEND_Y_PX - 8) / H],
                         range=[-1, 1], visible=False, fixedrange=True, anchor="x26")
for key, kx in zip(LEGEND_ORDER, LEGEND_KEY_PX):
    st = STYLE[key]
    fig.add_trace(go.Scatter(x=[kx, kx + 12, kx + 24], y=[0, 0, 0], mode="markers",
                             xaxis="x26", yaxis="y26", showlegend=False, hoverinfo="skip",
                             marker=dict(size=5, color=st["key"])))
    annotations.append(dict(xref="paper", yref="paper", x=(kx + 38) / W, y=1 - LEGEND_Y_PX / H,
                            xanchor="left", yanchor="middle", showarrow=False, text=st["label"],
                            font=dict(size=15, color="#1a1a1a", family=FONT)))

fig.update_layout(
    width=W, height=H, margin=dict(l=0, r=0, t=0, b=0),
    paper_bgcolor="white", plot_bgcolor="white", showlegend=False,
    shapes=shapes, annotations=annotations,
    **layout,
)

fig.write_html("out.html")
